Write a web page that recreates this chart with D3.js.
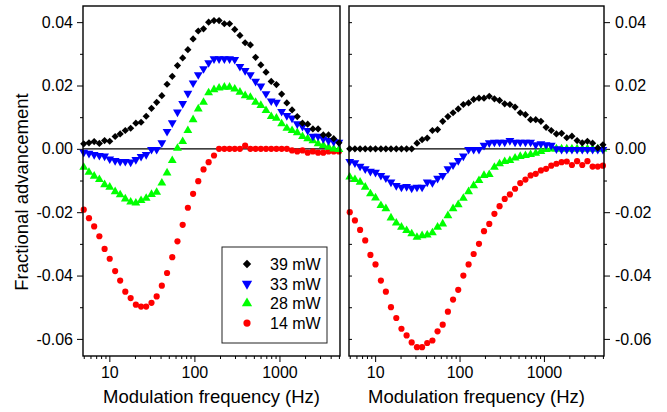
<!DOCTYPE html>
<html>
<head>
<meta charset="utf-8">
<script src="https://cdn.jsdelivr.net/npm/d3@7/dist/d3.min.js"></script>
<style>
	body { margin: 0; background: #fff; }
	svg { display: block; font-family: "Liberation Sans", Arial, sans-serif; }
</style>
</head>
<body>
<svg id="chart" width="667" height="412"></svg>
<script>
// modulation frequencies (Hz), log sweep 5 Hz .. 5 kHz
var freqs = [5.00, 5.76, 6.63, 7.63, 8.79, 10.1, 11.7, 13.4, 15.4, 17.8,
	20.5, 23.6, 27.1, 31.3, 36.0, 41.4, 47.7, 54.9, 63.2, 72.8,
	83.8, 96.5, 111, 128, 147, 170, 195, 225, 259, 298,
	343, 395, 455, 524, 604, 695, 800, 921, 1061, 1221,
	1406, 1619, 1865, 2147, 2472, 2846, 3277, 3774, 4345, 5000];

var powers = ["39 mW", "33 mW", "28 mW", "14 mW"];
var colours = ["#000000", "#0000ff", "#00ff00", "#ff0000"];
var shapes = ["diamond", "down", "up", "circle"];

// left panel
var left39 = [0.0016, 0.0019, 0.0023, 0.0017, 0.0026, 0.0024, 0.0039, 0.0047, 0.0058, 0.0065,
	0.0081, 0.0084, 0.0103, 0.0128, 0.0147, 0.0168, 0.0204, 0.0229, 0.0263, 0.0287,
	0.0313, 0.0347, 0.0372, 0.0379, 0.0400, 0.0405, 0.0405, 0.0395, 0.0395, 0.0377,
	0.0358, 0.0335, 0.0328, 0.0289, 0.0265, 0.0242, 0.0213, 0.0203, 0.0173, 0.0145,
	0.0123, 0.0102, 0.0081, 0.0078, 0.0063, 0.0063, 0.0044, 0.0044, 0.0032, 0.0019];
var left33 = [-0.0011, -0.0014, -0.0018, -0.0021, -0.0023, -0.0032, -0.0037, -0.0040, -0.0040, -0.0042,
	-0.0034, -0.0024, -0.0018, -0.0002, -0.0002, 0.0019, 0.0055, 0.0082, 0.0116, 0.0143,
	0.0175, 0.0208, 0.0234, 0.0253, 0.0272, 0.0284, 0.0284, 0.0284, 0.0284, 0.0282,
	0.0260, 0.0247, 0.0234, 0.0213, 0.0198, 0.0174, 0.0151, 0.0147, 0.0118, 0.0105,
	0.0097, 0.0079, 0.0071, 0.0058, 0.0040, 0.0040, 0.0032, 0.0026, 0.0023, 0.0021];
var left28 = [-0.0058, -0.0074, -0.0086, -0.0097, -0.0113, -0.0121, -0.0135, -0.0145, -0.0158, -0.0168,
	-0.0171, -0.0163, -0.0156, -0.0144, -0.0137, -0.0108, -0.0076, -0.0037, 0.0002, 0.0023,
	0.0058, 0.0092, 0.0126, 0.0147, 0.0177, 0.0187, 0.0192, 0.0195, 0.0195, 0.0189,
	0.0179, 0.0168, 0.0163, 0.0147, 0.0137, 0.0121, 0.0102, 0.0097, 0.0079, 0.0065,
	0.0058, 0.0051, 0.0039, 0.0032, 0.0026, 0.0016, 0.0011, 0.0005, 0.0000, -0.0002];
var left14 = [-0.0192, -0.0219, -0.0245, -0.0276, -0.0316, -0.0347, -0.0386, -0.0416, -0.0451, -0.0471,
	-0.0492, -0.0498, -0.0498, -0.0486, -0.0466, -0.0432, -0.0392, -0.0342, -0.0292, -0.0240,
	-0.0186, -0.0142, -0.0102, -0.0065, -0.0042, -0.0021, 0.0000, 0.0000, 0.0000, 0.0000,
	0.0000, 0.0010, 0.0000, 0.0000, 0.0000, 0.0000, 0.0000, 0.0000, 0.0000, 0.0000,
	-0.0005, -0.0008, -0.0005, -0.0012, -0.0008, -0.0012, -0.0012, -0.0008, -0.0008, -0.0008];

// right panel
var right39 = [0, 0, 0, 0, 0, 0, 0, 0, 0, 0,
	0, 0, 0, 0.0018, 0.0029, 0.0034, 0.0058, 0.0061, 0.0087, 0.0102,
	0.0114, 0.0126, 0.0140, 0.0145, 0.0156, 0.0160, 0.0160, 0.0166, 0.0158, 0.0153,
	0.0142, 0.0140, 0.0132, 0.0114, 0.0108, 0.0092, 0.0092, 0.0087, 0.0068, 0.0058,
	0.0047, 0.0049, 0.0035, 0.0040, 0.0026, 0.0019, 0.0024, 0.0018, 0.0003, 0.0013];
var right33 = [-0.0040, -0.0044, -0.0055, -0.0063, -0.0071, -0.0074, -0.0084, -0.0092, -0.0105, -0.0116,
	-0.0121, -0.0119, -0.0124, -0.0121, -0.0121, -0.0105, -0.0107, -0.0093, -0.0084, -0.0063,
	-0.0051, -0.0037, -0.0023, -0.0002, -0.0002, -0.0002, 0.0011, 0.0019, 0.0021, 0.0021,
	0.0021, 0.0026, 0.0021, 0.0021, 0.0021, 0.0021, 0.0013, 0.0016, 0.0013, 0.0011,
	0.0000, -0.0002, -0.0002, -0.0002, -0.0002, -0.0002, -0.0002, -0.0002, -0.0002, -0.0002];
var right28 = [-0.0089, -0.0097, -0.0105, -0.0121, -0.0142, -0.0155, -0.0179, -0.0189, -0.0218, -0.0234,
	-0.0247, -0.0258, -0.0268, -0.0279, -0.0274, -0.0272, -0.0265, -0.0247, -0.0237, -0.0211,
	-0.0189, -0.0176, -0.0156, -0.0135, -0.0116, -0.0100, -0.0084, -0.0081, -0.0058, -0.0047,
	-0.0040, -0.0037, -0.0029, -0.0024, -0.0021, -0.0018, -0.0014, -0.0008, -0.0002, 0.0000,
	0.0000, 0.0000, 0.0000, 0.0000, 0.0000, 0.0000, 0.0000, 0.0000, 0.0000, 0.0000];
var right14 = [-0.0200, -0.0226, -0.0256, -0.0289, -0.0335, -0.0365, -0.0416, -0.0451, -0.0500, -0.0534,
	-0.0568, -0.0589, -0.0611, -0.0626, -0.0626, -0.0613, -0.0605, -0.0576, -0.0555, -0.0514,
	-0.0476, -0.0445, -0.0400, -0.0365, -0.0332, -0.0300, -0.0260, -0.0237, -0.0205, -0.0181,
	-0.0158, -0.0144, -0.0126, -0.0108, -0.0097, -0.0084, -0.0079, -0.0068, -0.0063, -0.0053,
	-0.0047, -0.0042, -0.0040, -0.0051, -0.0039, -0.0051, -0.0039, -0.0056, -0.0056, -0.0053];

var yTicks = [-0.06, -0.04, -0.02, 0.00, 0.02, 0.04];
var yMinor = [-0.05, -0.03, -0.01, 0.01, 0.03];
var xTicks = [10, 100, 1000];

var svg = d3.select("#chart");

var top_ = 6, bottom = 356;
var y = d3.scaleLinear().domain([-0.0654, 0.0451]).range([bottom, top_]);
var xBase = d3.scaleLog().domain([4.9, 5150]);

var panels = [
	{ x0: 83, x1: 340, series: [left39, left33, left28, left14], side: "left" },
	{ x0: 349, x1: 604, series: [right39, right33, right28, right14], side: "right" }
];

var yFmt = d => d3.format(".2f")(d).replace("\u2212", "-");

function marker(shape, s) {
	// s ~ marker radius in px
	if (shape == "circle") return d3.symbol(d3.symbolCircle, Math.PI * s * s)();
	if (shape == "diamond") return d3.symbol(d3.symbolSquare, 2 * s * s)();
	return d3.symbol(d3.symbolTriangle, 1.5 * s * s * Math.sqrt(3))(); // up / down
}
function markerRot(shape) {
	return shape == "diamond" ? " rotate(45)" : shape == "down" ? " rotate(180)" : "";
}

panels.forEach(function (p) {
	var x = xBase.copy().range([p.x0, p.x1]);
	var g = svg.append("g");

	var minorX = x.ticks().filter(d => xTicks.indexOf(d) < 0);

	// bottom axis: minor + major
	g.append("g")
		.attr("transform", `translate(0,${bottom})`)
		.call(d3.axisBottom(x).tickValues(minorX).tickSize(3).tickSizeOuter(0).tickFormat(""))
		.call(a => a.select(".domain").remove());
	g.append("g")
		.attr("transform", `translate(0,${bottom})`)
		.call(d3.axisBottom(x).tickValues(xTicks).tickSize(6).tickSizeOuter(0).tickPadding(5).tickFormat(d3.format("d")))
		.call(a => a.select(".domain").remove())
		.call(a => a.selectAll("text").attr("font-size", 16).attr("font-family", null).attr("fill", "#000"));

	// vertical axis (outer side of each panel)
	var outer = p.side == "left" ? d3.axisLeft : d3.axisRight;
	var ax = p.side == "left" ? p.x0 : p.x1;
	g.append("g")
		.attr("transform", `translate(${ax},0)`)
		.call(outer(y).tickValues(yMinor).tickSize(3).tickSizeOuter(0).tickFormat(""))
		.call(a => a.select(".domain").remove());
	g.append("g")
		.attr("transform", `translate(${ax},0)`)
		.call(outer(y).tickValues(yTicks).tickSize(6).tickSizeOuter(0).tickPadding(p.side == "left" ? 4 : 5).tickFormat(yFmt))
		.call(a => a.select(".domain").remove())
		.call(a => a.selectAll("text").attr("font-size", 16).attr("font-family", null).attr("fill", "#000"));

	// inner small ticks on the right panel's left edge
	if (p.side == "right") {
		g.append("g")
			.attr("transform", `translate(${p.x0},0)`)
			.call(d3.axisRight(y).tickValues(yTicks.concat(yMinor)).tickSize(3).tickSizeOuter(0).tickFormat(""))
			.call(a => a.select(".domain").remove());
	}

	// zero line
	g.append("line")
		.attr("x1", p.x0).attr("x2", p.x1)
		.attr("y1", y(0)).attr("y2", y(0))
		.attr("stroke", "#000").attr("stroke-width", 1.2);

	// data, drawn lowest power first
	d3.range(3, -1, -1).forEach(function (k) {
		g.append("g")
			.attr("fill", colours[k])
			.selectAll("path")
			.data(p.series[k])
			.join("path")
			.attr("d", marker(shapes[k], shapes[k] == "circle" ? 3.1 : 3.6))
			.attr("transform", (d, i) => `translate(${x(freqs[i])},${y(d)})` + markerRot(shapes[k]));
	});

	// frame
	g.append("rect")
		.attr("x", p.x0).attr("y", top_)
		.attr("width", p.x1 - p.x0).attr("height", bottom - top_)
		.attr("fill", "none").attr("stroke", "#000").attr("stroke-width", 1.4);

	g.append("text")
		.attr("x", (p.x0 + p.x1) / 2)
		.attr("y", 403)
		.attr("text-anchor", "middle")
		.attr("font-size", 18.5)
		.text("Modulation frequency (Hz)");
});

svg.append("text")
	.attr("transform", "translate(28,192) rotate(-90)")
	.attr("text-anchor", "middle")
	.attr("font-size", 18.5)
	.text("Fractional advancement");

// legend
var legend = svg.append("g").attr("transform", "translate(222,247)");
legend.append("rect")
	.attr("width", 105).attr("height", 96)
	.attr("fill", "#fff").attr("stroke", "#222").attr("stroke-width", 1);
legend.selectAll("g")
	.data(powers)
	.join("g")
	.attr("transform", (d, i) => `translate(0,${17 + i * 19.7})`)
	.call(g => g.append("path")
		.attr("transform", (d, i) => "translate(25,0)" + markerRot(shapes[i]))
		.attr("fill", (d, i) => colours[i])
		.attr("d", (d, i) => marker(shapes[i], shapes[i] == "circle" ? 3.6 : 4.2)))
	.call(g => g.append("text")
		.attr("x", 48)
		.attr("y", 6)
		.attr("font-size", 16)
		.text(d => d));
</script>
</body>
</html>
